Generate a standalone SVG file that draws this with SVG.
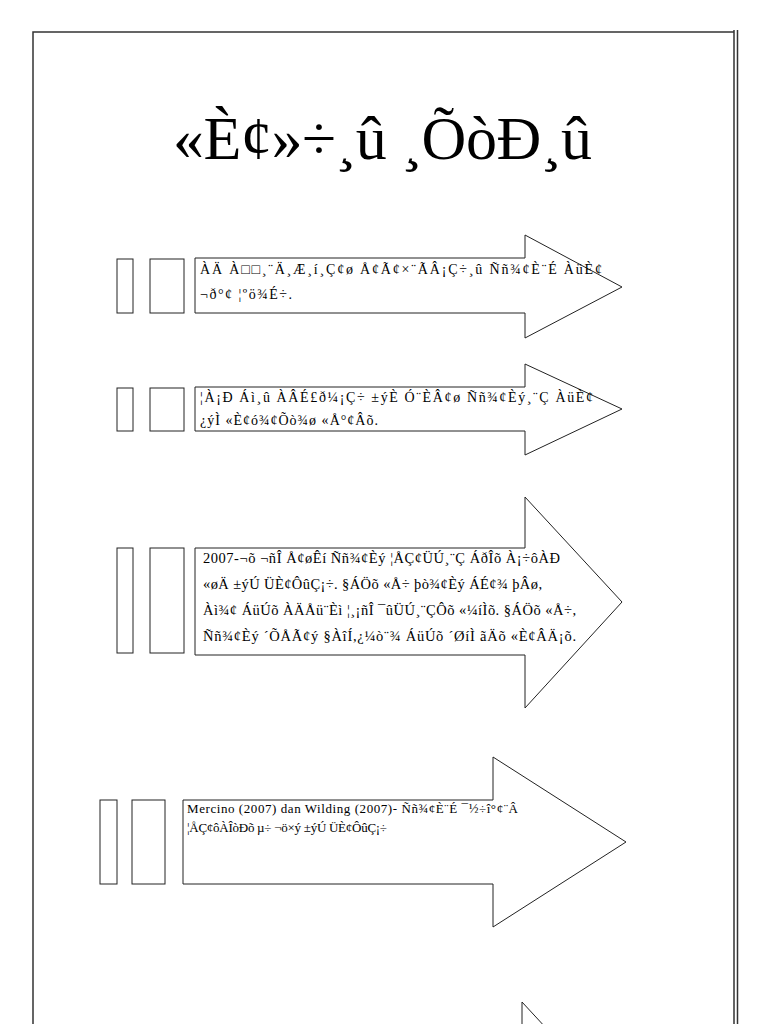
<svg xmlns="http://www.w3.org/2000/svg" width="768" height="1024" viewBox="0 0 768 1024">
<style>
.frame{fill:none;stroke:#333;stroke-width:1.5}
.box{fill:#fff;stroke:#222;stroke-width:1}
.arrow{fill:#fff;stroke:#222;stroke-width:1}
.t{font-family:"Liberation Serif","Times New Roman",serif;font-size:14px;fill:#000}
.t3{font-family:"Liberation Serif","Times New Roman",serif;font-size:14.5px;fill:#000}
.t4{font-family:"Liberation Serif","Times New Roman",serif;font-size:13px;fill:#000}
.title{font-family:"Liberation Serif","Times New Roman",serif;font-size:62px;fill:#000}
</style>
<rect width="768" height="1024" fill="#fff"/>
<g id="page">
<path class="frame" d="M33,1024 V32 H734"/>
<path class="frame" d="M734,30 V1024 M737.5,30 V1024"/>
</g>
<text class="title" x="173" y="159" textLength="419" lengthAdjust="spacing">«È¢»÷¸û ¸ÕòÐ¸û</text>
<g id="connectors">
<path class="arrow" d="M195,258 H525 V235 L622,287 L525,338 V313 H195 Z"/>
<path class="arrow" d="M195,387 H525 V364 L622,409 L525,455 V431 H195 Z"/>
<path class="arrow" d="M195,548 H525 V497 L622,602 L525,708 V655 H195 Z"/>
<path class="arrow" d="M183,800 H493 V757 L626,842 L493,927 V884 H183 Z"/>
<path class="arrow" d="M522,1040 V1002 L622,1110"/>
</g>
<g id="node1">
<rect class="box" x="117" y="259" width="16" height="54"/>
<rect class="box" x="150" y="259" width="34" height="54"/>
<text class="t" x="200" y="274" textLength="402" lengthAdjust="spacing">ÀÄ À□□¸¨Ä¸Æ¸í¸Ç¢ø Å¢Ã¢×¨ÃÂ¡Ç÷¸û Ññ¾¢È¨É ÀüÈ¢</text>
<text class="t" x="200" y="299" textLength="92" lengthAdjust="spacing">¬ð°¢ ¦ºö¾É÷.</text>
</g>
<g id="node2">
<rect class="box" x="117" y="388" width="16" height="43"/>
<rect class="box" x="150" y="388" width="34" height="43"/>
<text class="t" x="200" y="402" textLength="393" lengthAdjust="spacing">¦À¡Ð Áì¸û ÀÂÉ£ð¼¡Ç÷ ±ýÈ Ó¨ÈÂ¢ø Ññ¾¢Èý¸¨Ç ÀüÈ¢</text>
<text class="t" x="200" y="425" textLength="178" lengthAdjust="spacing">¿ýÌ «È¢ó¾¢Õò¾ø «Å°¢Âõ.</text>
</g>
<g id="node3">
<rect class="box" x="117" y="548" width="16" height="105"/>
<rect class="box" x="150" y="548" width="34" height="105"/>
<text class="t3" x="203" y="563" textLength="357" lengthAdjust="spacing">2007-¬õ ¬ñÎ Å¢øÊí Ññ¾¢Èý ¦ÅÇ¢ÜÚ¸¨Ç ÁðÎõ À¡÷ôÀÐ</text>
<text class="t3" x="203" y="589" textLength="339" lengthAdjust="spacing">«øÄ ±ýÚ ÜÈ¢ÔûÇ¡÷. §ÁÖõ «Å÷ þò¾¢Èý ÁÉ¢¾ þÂø,</text>
<text class="t3" x="203" y="615" textLength="373" lengthAdjust="spacing">Àì¾¢ ÁüÚõ ÀÄÅü¨Èì ¦¸¡ñÎ ¯ûÜÚ¸¨ÇÔõ «¼íÌõ. §ÁÖõ «Å÷,</text>
<text class="t3" x="203" y="641" textLength="373" lengthAdjust="spacing">Ññ¾¢Èý ´ÕÅÃ¢ý §ÀîÍ,¿¼ò¨¾ ÁüÚõ ´ØíÌ ãÄõ «È¢ÂÄ¡õ.</text>
</g>
<g id="node4">
<rect class="box" x="100" y="800" width="17" height="84"/>
<rect class="box" x="132" y="800" width="33" height="84"/>
<text class="t4" x="187" y="813" textLength="331" lengthAdjust="spacing">Mercino (2007) dan Wilding (2007)- Ññ¾¢È¨É ¯½÷î°¢¨Â</text>
<text class="t4" x="187" y="832" textLength="200" lengthAdjust="spacing">¦ÅÇ¢ôÀÎòÐõ µ÷ ¬ö×ý ±ýÚ ÜÈ¢ÔûÇ¡÷</text>
</g>
</svg>
